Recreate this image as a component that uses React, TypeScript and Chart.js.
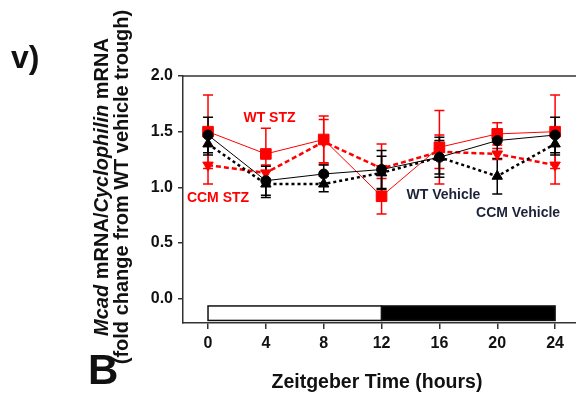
import React, { useEffect, useRef } from 'react';
import { Chart, registerables } from 'chart.js';

Chart.register(...registerables);

// ---- data ----
const zt = [0, 4, 8, 12, 16, 20, 24];
const wtStzMean = [1.5, 1.3, 1.43, 0.92, 1.36, 1.48, 1.5];
const wtStzErr = [0.33, 0.23, 0.21, 0.16, 0.33, 0.1, 0.33];
const ccmStzMean = [1.2, 1.13, 1.41, 1.17, 1.32, 1.3, 1.2];
const ccmStzErr = [0.17, 0.07, 0.2, 0.22, 0.15, 0.05, 0.17];
const wtVehMean = [1.47, 1.06, 1.12, 1.16, 1.27, 1.42, 1.47];
const wtVehErr = [0.16, 0.13, 0.08, 0.17, 0.18, 0.1, 0.16];
const ccmVehMean = [1.39, 1.03, 1.03, 1.13, 1.27, 1.1, 1.39];
const ccmVehErr = [0.1, 0.12, 0.07, 0.15, 0.15, 0.16, 0.1];

const xTicks = [0, 4, 8, 12, 16, 20, 24];
const yTicks = [0, 0.5, 1.0, 1.5, 2.0];

// light/dark phase bar
const phaseStart = [0, 12];
const phaseEnd = [12, 24];
const phaseFill = ['#ffffff', '#000000'];
const phaseTop = -0.065;
const phaseBottom = -0.195;

// in-plot series labels (data coordinates)
const seriesLabels = ['WT STZ', 'CCM STZ', 'WT Vehicle', 'CCM Vehicle'];
const labelX = [4.25, 0.69, 16.28, 21.44];
const labelY = [1.62, 0.905, 0.93, 0.77];
const labelColor = ['#ff0000', '#ff0000', '#1c2238', '#1c2238'];

const xTitle = 'Zeitgeber Time (hours)';

const RED = '#ff0000';
const BLACK = '#000000';
const FONT = '"Liberation Sans", Arial, sans-serif';

const toPts = (m: number[]) => m.map((v, i) => ({ x: zt[i], y: v }));

const errorBarPlugin = {
  id: 'errorBars',
  beforeDatasetsDraw(chart: any) {
    const { ctx } = chart;
    const xs = chart.scales.x;
    const ys = chart.scales.y;
    const dsets = chart.data.datasets;
    for (let i = dsets.length - 1; i >= 0; i--) {
      const ds = dsets[i];
      const errs: number[] = ds.errors;
      ctx.save();
      ctx.strokeStyle = ds.borderColor;
      ctx.lineWidth = 1.5;
      ctx.setLineDash([]);
      ds.data.forEach((p: any, j: number) => {
        const x = xs.getPixelForValue(p.x);
        const yT = ys.getPixelForValue(p.y + errs[j]);
        const yB = ys.getPixelForValue(p.y - errs[j]);
        ctx.beginPath();
        ctx.moveTo(x, yT);
        ctx.lineTo(x, yB);
        ctx.moveTo(x - 5, yT);
        ctx.lineTo(x + 5, yT);
        ctx.moveTo(x - 5, yB);
        ctx.lineTo(x + 5, yB);
        ctx.stroke();
      });
      ctx.restore();
    }
  },
};

const framePlugin = {
  id: 'frameAndPhase',
  beforeDatasetsDraw(chart: any) {
    const { ctx, chartArea } = chart;
    const xs = chart.scales.x;
    const ys = chart.scales.y;
    ctx.save();
    ctx.strokeStyle = '#333333';
    ctx.lineWidth = 1.5;
    ctx.beginPath();
    ctx.moveTo(chartArea.left, chartArea.top);
    ctx.lineTo(chartArea.right, chartArea.top);
    ctx.stroke();
    const yT = ys.getPixelForValue(phaseTop);
    const yB = ys.getPixelForValue(phaseBottom);
    phaseStart.forEach((s, i) => {
      const x0 = xs.getPixelForValue(s);
      const x1 = xs.getPixelForValue(phaseEnd[i]);
      ctx.fillStyle = phaseFill[i];
      ctx.fillRect(x0, yT, x1 - x0, yB - yT);
      ctx.strokeStyle = '#111111';
      ctx.lineWidth = 1.5;
      ctx.strokeRect(x0, yT, x1 - x0, yB - yT);
    });
    ctx.restore();
  },
};

const labelPlugin = {
  id: 'seriesLabels',
  afterDatasetsDraw(chart: any) {
    const { ctx } = chart;
    const xs = chart.scales.x;
    const ys = chart.scales.y;
    ctx.save();
    ctx.font = `bold 14px ${FONT}`;
    ctx.textAlign = 'center';
    ctx.textBaseline = 'middle';
    seriesLabels.forEach((t, i) => {
      ctx.fillStyle = labelColor[i];
      ctx.fillText(t, xs.getPixelForValue(labelX[i]), ys.getPixelForValue(labelY[i]));
    });
    ctx.restore();
  },
};

export default function App() {
  const ref = useRef<HTMLCanvasElement>(null);

  useEffect(() => {
    if (!ref.current) return;
    const chart = new Chart(ref.current, {
      type: 'line',
      data: {
        datasets: [
          {
            label: 'CCM Vehicle',
            data: toPts(ccmVehMean),
            errors: ccmVehErr,
            borderColor: BLACK,
            backgroundColor: BLACK,
            borderWidth: 2.5,
            borderDash: [3, 3],
            pointStyle: 'triangle',
            pointRadius: 6,
            pointBorderWidth: 1,
          },
          {
            label: 'WT Vehicle',
            data: toPts(wtVehMean),
            errors: wtVehErr,
            borderColor: BLACK,
            backgroundColor: BLACK,
            borderWidth: 1,
            pointStyle: 'circle',
            pointRadius: 5,
            pointBorderWidth: 1,
          },
          {
            label: 'CCM STZ',
            data: toPts(ccmStzMean),
            errors: ccmStzErr,
            borderColor: RED,
            backgroundColor: RED,
            borderWidth: 2.5,
            borderDash: [5, 3],
            pointStyle: 'triangle',
            pointRotation: 180,
            pointRadius: 6,
            pointBorderWidth: 1,
          },
          {
            label: 'WT STZ',
            data: toPts(wtStzMean),
            errors: wtStzErr,
            borderColor: RED,
            backgroundColor: RED,
            borderWidth: 1,
            pointStyle: 'rect',
            pointRadius: 7.5,
            pointBorderWidth: 1,
          },
        ] as any,
      },
      options: {
        animation: false,
        responsive: false,
        layout: { padding: { top: 76, left: 0, right: 0, bottom: 0 } },
        plugins: { legend: { display: false }, tooltip: { enabled: false } },
        scales: {
          x: {
            type: 'linear',
            min: -1.73,
            max: 27.9,
            afterBuildTicks: (s: any) => {
              s.ticks = xTicks.map((v) => ({ value: v }));
            },
            afterFit: (s: any) => {
              s.height = 73;
            },
            grid: { drawOnChartArea: false, drawTicks: true, tickLength: 6, color: '#333333', lineWidth: 1.5 },
            border: { color: '#333333', width: 1.5 },
            ticks: {
              font: { family: FONT, size: 16, weight: 'bold' },
              color: '#111111',
              padding: 5,
              maxRotation: 0,
              callback: (v: any) => String(v),
            },
          },
          y: {
            type: 'linear',
            min: -0.218,
            max: 2.0,
            afterBuildTicks: (s: any) => {
              s.ticks = yTicks.map((v) => ({ value: v }));
            },
            afterFit: (s: any) => {
              s.width = 183;
            },
            grid: { drawOnChartArea: false, drawTicks: true, tickLength: 5, color: '#333333', lineWidth: 1.5 },
            border: { color: '#333333', width: 1.5 },
            ticks: {
              font: { family: FONT, size: 16, weight: 'bold' },
              color: '#111111',
              padding: 5,
              callback: (v: any) => Number(v).toFixed(1),
            },
          },
        },
      } as any,
      plugins: [framePlugin, errorBarPlugin, labelPlugin],
    });
    return () => chart.destroy();
  }, []);

  return (
    <div style={{ position: 'fixed', left: 0, top: 0, width: 576, height: 396, background: '#fff', overflow: 'hidden' }}>
      <canvas ref={ref} width={620} height={396} style={{ position: 'absolute', left: 0, top: 0 }} />
      <div
        style={{
          position: 'absolute',
          left: 377,
          top: 381,
          transform: 'translate(-50%, -50%)',
          whiteSpace: 'nowrap',
          fontFamily: FONT,
          fontWeight: 'bold',
          fontSize: 19.5,
          lineHeight: 1.15,
          color: '#111',
        }}
      >
        {xTitle}
      </div>
      <div
        style={{
          position: 'absolute',
          left: 11,
          top: 41,
          fontFamily: FONT,
          fontWeight: 'bold',
          fontSize: 32,
          lineHeight: 1,
          color: '#111',
        }}
      >
        v)
      </div>
      <div
        style={{
          position: 'absolute',
          left: 88,
          top: 349,
          fontFamily: FONT,
          fontWeight: 'bold',
          fontSize: 42,
          lineHeight: 1,
          color: '#111',
        }}
      >
        B
      </div>
      <div
        style={{
          position: 'absolute',
          left: 111,
          top: 187,
          transform: 'translate(-50%, -50%) rotate(-90deg)',
          whiteSpace: 'nowrap',
          textAlign: 'center',
          fontFamily: FONT,
          fontWeight: 'bold',
          fontSize: 20,
          lineHeight: '20px',
          color: '#111',
        }}
      >
        <div>
          <i>Mcad</i> mRNA/<i>Cyclophilin</i> mRNA
        </div>
        <div>(fold change from WT vehicle trough)</div>
      </div>
    </div>
  );
}
